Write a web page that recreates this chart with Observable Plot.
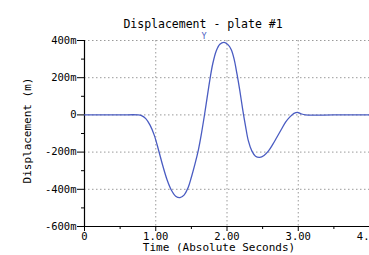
<!DOCTYPE html>
<html>
<head>
<meta charset="utf-8">
<script src="https://cdn.jsdelivr.net/npm/d3@7"></script>
<script src="https://cdn.jsdelivr.net/npm/@observablehq/plot@0.6"></script>
<style>
  html, body { margin: 0; padding: 0; background: #fff; overflow: hidden; }
</style>
</head>
<body>
<div id="chart"></div>
<script>
const title = "Displacement - plate #1";
const marker = "Y";
const xTitle = "Time (Absolute Seconds)";
const yTitle = "Displacement (m)";

const time = [0, 0.5, 0.75, 0.80, 0.86, 0.92, 0.98, 1.04, 1.10, 1.16, 1.22, 1.28, 1.34, 1.40, 1.455, 1.50, 1.55, 1.60, 1.64, 1.68, 1.72, 1.76, 1.80, 1.85, 1.90, 1.96, 2.02, 2.06, 2.10, 2.14, 2.18, 2.22, 2.26, 2.30, 2.35, 2.40, 2.46, 2.52, 2.58, 2.64, 2.70, 2.76, 2.82, 2.88, 2.94, 2.99, 3.04, 3.10, 3.5, 4.0];
const displacement = [0, 0, 0, -0.004, -0.02, -0.055, -0.11, -0.19, -0.275, -0.35, -0.405, -0.437, -0.445, -0.43, -0.39, -0.335, -0.265, -0.185, -0.103, -0.01, 0.09, 0.19, 0.275, 0.345, 0.38, 0.39, 0.375, 0.35, 0.30, 0.22, 0.13, 0.03, -0.06, -0.14, -0.195, -0.222, -0.228, -0.218, -0.195, -0.16, -0.12, -0.08, -0.04, -0.012, 0.008, 0.014, 0.006, 0, 0, 0];

const xMajor = [0, 1, 2, 3, 4];
const xMinor = [0.5, 1.5, 2.5, 3.5];
const xGrid = [1, 2, 3];
const yMajor = [0.4, 0.2, 0, -0.2, -0.4, -0.6];
const yMinor = [0.3, 0.1, -0.1, -0.3, -0.5];
const yGrid = [0.4, 0.2, 0, -0.2, -0.4];

const data = time.map((t, i) => ({t, v: displacement[i]}));
const fmtX = d => d === 0 ? "0" : d.toFixed(2);
const fmtY = d => d === 0 ? "0" : Math.round(d * 1000) + "m";
const gridStyle = {stroke: "#9a9a9a", strokeOpacity: 1, strokeDasharray: "1.5,2.5", strokeWidth: 1};

const chart = Plot.plot({
  width: 369,
  height: 255,
  marginLeft: 84,
  marginRight: 0,
  marginTop: 40,
  marginBottom: 29,
  x: {domain: [0, 4], label: null},
  y: {domain: [-0.6, 0.4], label: null},
  style: {fontFamily: "DejaVu Sans Mono", fontSize: "10.5px", background: "#fff", color: "#000", overflow: "hidden"},
  marks: [
    Plot.gridY(yGrid, gridStyle),
    Plot.gridX(xGrid, gridStyle),
    Plot.ruleX([0], {stroke: "#000", strokeWidth: 1.2}),
    Plot.ruleY([-0.6], {stroke: "#000", strokeWidth: 1.2}),
    Plot.axisY(yMajor, {anchor: "left", tickSize: 7, tickPadding: 1, tickFormat: fmtY, label: null, stroke: "#000", fontSize: 10.5}),
    Plot.axisY(yMinor, {anchor: "left", tickSize: 3, tickFormat: () => "", label: null, stroke: "#000"}),
    Plot.axisX(xMajor, {anchor: "bottom", tickSize: 5, tickPadding: 1, tickFormat: fmtX, label: null, stroke: "#000", fontSize: 10.5}),
    Plot.axisX(xMinor, {anchor: "bottom", tickSize: 3, tickFormat: () => "", label: null, stroke: "#000"}),
    Plot.line(data, {x: "t", y: "v", stroke: "#4a5cc2", strokeWidth: 1.3, curve: "catmull-rom"}),
    Plot.text([title], {frameAnchor: "top", dx: -24, dy: -21, textAnchor: "middle", fontSize: 11.5, fill: "#000"}),
    Plot.text([marker], {frameAnchor: "top", dx: -23, dy: -8, textAnchor: "middle", fontSize: 8.5, fill: "#4a5cc2"}),
    Plot.text([xTitle], {frameAnchor: "bottom", dx: -8, dy: 24, textAnchor: "middle", fontSize: 11, fill: "#000"}),
    Plot.text([yTitle], {frameAnchor: "left", dx: -57, dy: -3, rotate: -90, textAnchor: "middle", fontSize: 11, fill: "#000"})
  ]
});
document.getElementById("chart").appendChild(chart);
</script>
</body>
</html>
